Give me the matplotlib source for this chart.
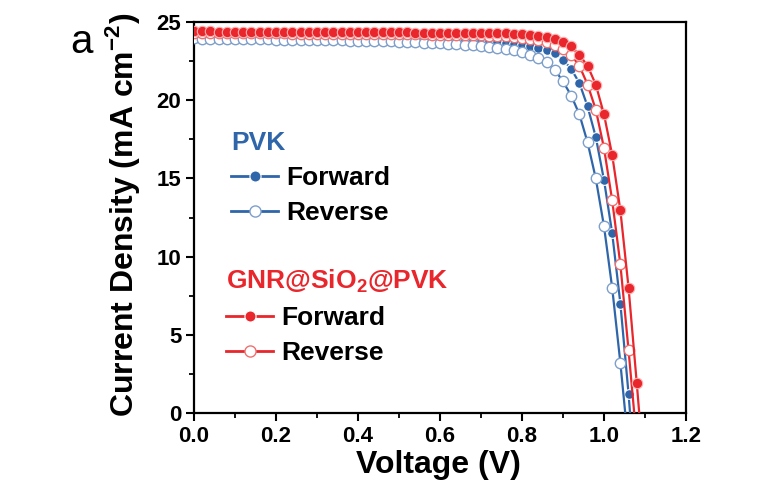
import matplotlib
matplotlib.use("Agg")
import matplotlib.pyplot as plt
from matplotlib.lines import Line2D

plt.rcParams['font.family'] = ['Liberation Sans', 'DejaVu Sans']
plt.rcParams['font.weight'] = 'bold'
plt.rcParams['axes.labelweight'] = 'bold'
plt.rcParams['mathtext.fontset'] = 'custom'
plt.rcParams['mathtext.rm'] = 'Liberation Sans:bold'
plt.rcParams['mathtext.bf'] = 'Liberation Sans:bold'

# --- J-V sweep data (V, mA cm^-2) ---
voltage = [0.00, 0.02, 0.04, 0.06, 0.08, 0.10, 0.12, 0.14, 0.16, 0.18,
           0.20, 0.22, 0.24, 0.26, 0.28, 0.30, 0.32, 0.34, 0.36, 0.38,
           0.40, 0.42, 0.44, 0.46, 0.48, 0.50, 0.52, 0.54, 0.56, 0.58,
           0.60, 0.62, 0.64, 0.66, 0.68, 0.70, 0.72, 0.74, 0.76, 0.78,
           0.80, 0.82, 0.84, 0.86, 0.88, 0.90, 0.92, 0.94, 0.96, 0.98,
           1.00, 1.02, 1.04, 1.06, 1.08, 1.10]

pvk_forward = [24.10, 24.10, 24.09, 24.09, 24.08, 24.08, 24.07, 24.07, 24.06, 24.06,
               24.05, 24.05, 24.04, 24.04, 24.03, 24.03, 24.03, 24.02, 24.02, 24.02,
               24.02, 24.01, 24.00, 24.00, 23.99, 23.98, 23.97, 23.96, 23.95, 23.93,
               23.92, 23.90, 23.88, 23.86, 23.83, 23.80, 23.76, 23.72, 23.67, 23.61,
               23.54, 23.45, 23.35, 23.22, 23.02, 22.60, 22.00, 21.10, 19.60, 17.65,
               14.90, 11.50, 7.00, 1.20, -5.50, -12.0]

pvk_reverse = [23.95, 23.94, 23.93, 23.93, 23.92, 23.92, 23.91, 23.90, 23.90, 23.89,
               23.88, 23.88, 23.87, 23.86, 23.85, 23.85, 23.84, 23.83, 23.82, 23.81,
               23.80, 23.79, 23.78, 23.77, 23.76, 23.75, 23.73, 23.71, 23.69, 23.67,
               23.65, 23.62, 23.59, 23.55, 23.51, 23.46, 23.40, 23.34, 23.27, 23.18,
               23.07, 22.92, 22.72, 22.45, 21.95, 21.20, 20.30, 19.10, 17.30, 15.00,
               11.95, 8.00, 3.20, -2.20, -8.00, -14.0]

gnr_forward = [24.40, 24.40, 24.40, 24.39, 24.39, 24.39, 24.38, 24.38, 24.38, 24.38,
               24.37, 24.37, 24.37, 24.37, 24.36, 24.36, 24.36, 24.36, 24.35, 24.35,
               24.35, 24.35, 24.35, 24.34, 24.34, 24.34, 24.34, 24.33, 24.33, 24.33,
               24.33, 24.32, 24.32, 24.31, 24.31, 24.30, 24.29, 24.28, 24.27, 24.25,
               24.22, 24.18, 24.12, 24.03, 23.90, 23.70, 23.45, 22.90, 22.20, 21.00,
               19.10, 16.50, 12.95, 8.00, 1.90, -4.50]

gnr_reverse = [24.30, 24.30, 24.30, 24.29, 24.29, 24.29, 24.28, 24.28, 24.28, 24.27,
               24.27, 24.27, 24.26, 24.26, 24.26, 24.25, 24.25, 24.25, 24.24, 24.24,
               24.24, 24.23, 24.23, 24.23, 24.22, 24.22, 24.22, 24.21, 24.21, 24.20,
               24.20, 24.19, 24.18, 24.17, 24.16, 24.15, 24.13, 24.11, 24.08, 24.04,
               24.00, 23.93, 23.84, 23.70, 23.50, 23.25, 22.90, 22.20, 21.00, 19.40,
               16.95, 13.60, 9.50, 4.00, -1.80, -8.00]

BLUE = '#2f66aa'
BLUE_LIGHT = '#7e9fcb'
RED = '#e8262b'
RED_LIGHT = '#f07070'

fig = plt.figure(figsize=(7.68, 4.96), dpi=100)
ax = fig.add_axes([0.2526, 0.1673, 0.6406, 0.7883])

# --- curves ---
ax.plot(voltage, pvk_forward, '-o', color=BLUE, lw=1.6, ms=7,
        mfc=BLUE, mec='white', mew=0.8, zorder=3)
ax.plot(voltage, pvk_reverse, '-o', color=BLUE, lw=1.6, ms=7.5,
        mfc='white', mec=BLUE_LIGHT, mew=1.0, zorder=4)
ax.plot(voltage, gnr_reverse, '-o', color=RED, lw=1.6, ms=7.5,
        mfc='white', mec=RED_LIGHT, mew=1.0, zorder=5)
ax.plot(voltage, gnr_forward, '-o', color=RED, lw=1.6, ms=7.5,
        mfc=RED, mec='#ffb0b0', mew=0.8, zorder=6)

ax.set_xlim(0, 1.2)
ax.set_ylim(0, 25)
ax.set_xticks([0.0, 0.2, 0.4, 0.6, 0.8, 1.0, 1.2])
ax.set_xticks([0.1, 0.3, 0.5, 0.7, 0.9, 1.1], minor=True)
ax.set_yticks([0, 5, 10, 15, 20, 25])
ax.set_yticks([2.5, 7.5, 12.5, 17.5, 22.5], minor=True)
ax.xaxis.set_major_formatter(matplotlib.ticker.FormatStrFormatter('%.1f'))

for spine in ax.spines.values():
    spine.set_linewidth(1.6)
ax.tick_params(which='major', direction='out', length=6, width=1.5,
               labelsize=16, pad=3, top=False, right=False)
ax.tick_params(which='minor', direction='out', length=3.5, width=1.3,
               top=False, right=False)

ax.set_xlabel('Voltage (V)', fontsize=23, fontweight='bold')
ax.set_ylabel('Current Density (mA cm$^{-2}$)', fontsize=23, fontweight='bold')
ax.xaxis.set_label_coords(0.496, -0.095)
ax.yaxis.set_label_coords(-0.105, 0.506)

# --- legends ---
def make_handles(color, light):
    fwd = Line2D([], [], color=color, lw=2, marker='o', ms=8,
                 mfc=color, mec='white', mew=0.8)
    rev = Line2D([], [], color=color, lw=2, marker='o', ms=8,
                 mfc='white', mec=light, mew=1.0)
    return [fwd, rev]

leg_kw = dict(loc='upper left', frameon=False, fontsize=19, borderpad=0,
              handlelength=1.8, handletextpad=0.3, labelspacing=0.42,
              alignment='left', borderaxespad=0)

leg1 = ax.legend(make_handles(BLUE, BLUE_LIGHT), ['Forward', 'Reverse'],
                 title='PVK', bbox_to_anchor=(0.075, 0.722),
                 title_fontproperties={'size': 19, 'weight': 'bold'}, **leg_kw)
leg1.get_title().set_color(BLUE)
ax.add_artist(leg1)

leg2 = ax.legend(make_handles(RED, RED_LIGHT), ['Forward', 'Reverse'],
                 title='GNR@SiO$_2$@PVK', bbox_to_anchor=(0.065, 0.372),
                 title_fontproperties={'size': 19, 'weight': 'bold'}, **leg_kw)
leg2.get_title().set_color(RED)

fig.text(0.092, 0.893, 'a', fontsize=29, fontweight='normal', va='baseline')

fig.savefig('out.png', dpi=100)
plt.close(fig)
